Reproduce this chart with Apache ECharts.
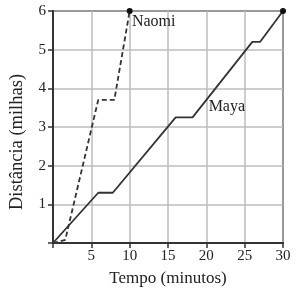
<!DOCTYPE html>
<html><head><meta charset="utf-8">
<script src="https://cdn.jsdelivr.net/npm/echarts@6/dist/echarts.min.js"></script>
<style>html,body{margin:0;padding:0;background:#fff}#c{width:300px;height:292px}</style>
</head><body><div id="c"></div>
<script>
const naomi = [[0,0],[1.6,0.08],[5.9,3.7],[8,3.7],[10,6]];
const maya = [[0,0],[5.9,1.3],[7.8,1.3],[16,3.25],[18.2,3.25],[26,5.2],[27,5.2],[30,6]];
const xTicks = [0,5,10,15,20,25,30];
const yTicks = [0,1,2,3,4,5,6];
const naomiLabel = 'Naomi', mayaLabel = 'Maya';
const xName = 'Tempo (minutos)', yName = 'Distância (milhas)';
const font = 'Liberation Serif';
const dark = '#333';
const chart = echarts.init(document.getElementById('c'), null, {renderer:'canvas'});
chart.setOption({
  animation:false,
  grid:{left:50,right:17,top:11,bottom:49,show:true,borderColor:dark,borderWidth:2,backgroundColor:'transparent'},
  xAxis:{type:'value',min:0,max:30,interval:5,
    name:xName,nameLocation:'middle',nameGap:27,
    nameTextStyle:{fontFamily:font,fontSize:17,color:'#222'},
    axisLine:{lineStyle:{color:dark,width:2}},
    axisTick:{show:true,length:5,lineStyle:{color:dark,width:1.5}},
    axisLabel:{fontFamily:font,fontSize:15,color:'#222',margin:6,formatter:v=>v===0?'':String(v)},
    splitLine:{lineStyle:{color:'#bdbdbd',width:1.5}}},
  yAxis:{type:'value',min:0,max:6,interval:1,
    name:yName,nameLocation:'middle',nameGap:26,
    nameTextStyle:{fontFamily:font,fontSize:18.5,color:'#222',padding:[0,30,0,0]},
    axisLine:{show:true,lineStyle:{color:dark,width:2}},
    axisTick:{show:true,length:5,lineStyle:{color:dark,width:1.5}},
    axisLabel:{fontFamily:font,fontSize:15,color:'#222',margin:7,formatter:v=>v===0?'':String(v)},
    splitLine:{lineStyle:{color:'#bdbdbd',width:1.5}}},
  series:[
    {type:'line',data:naomi,symbol:'none',lineStyle:{color:dark,width:1.8,type:[5,3]},
     markPoint:{symbol:'circle',symbolSize:6,itemStyle:{color:'#111'},
       data:[{coord:[10,6],label:{show:false}},
             {coord:[10.3,5.72],symbolSize:0,label:{show:true,formatter:naomiLabel,position:'inside',align:'left',verticalAlign:'middle',fontFamily:font,fontSize:16,color:'#222'}}]}},
    {type:'line',data:maya,symbol:'none',lineStyle:{color:dark,width:1.8},
     markPoint:{symbol:'circle',symbolSize:6,itemStyle:{color:'#111'},
       data:[{coord:[30,6],label:{show:false}},
             {coord:[20.3,3.52],symbolSize:0,label:{show:true,formatter:mayaLabel,position:'inside',align:'left',verticalAlign:'middle',fontFamily:font,fontSize:16,color:'#222'}}]}}
  ]
});
</script></body></html>
